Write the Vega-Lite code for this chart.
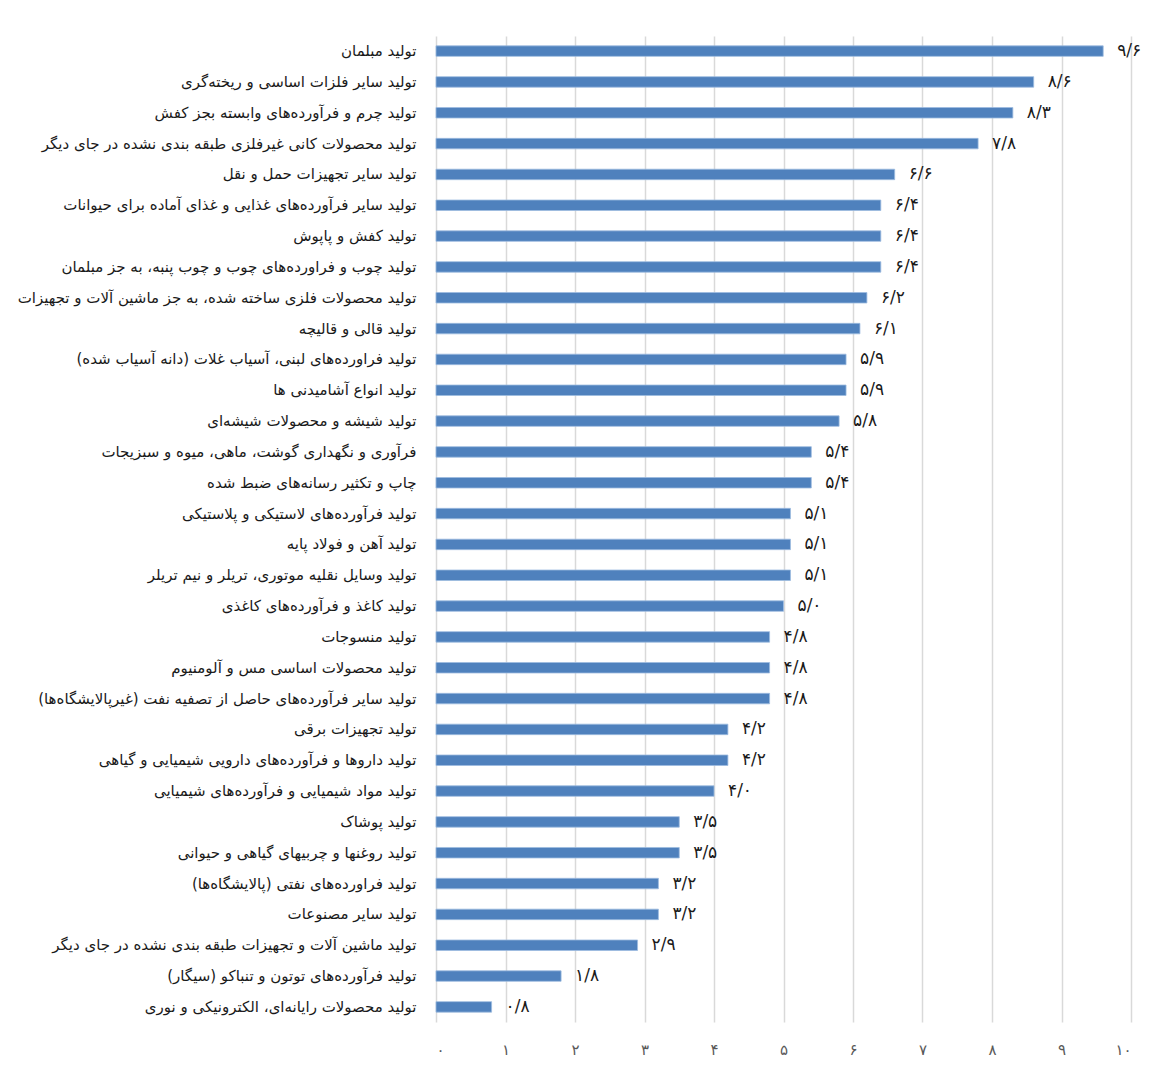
{
  "$schema": "https://vega.github.io/schema/vega-lite/v6.json",
  "width": 695,
  "height": 986,
  "autosize": {"type": "none"},
  "padding": {"left": 436, "top": 36, "right": 27, "bottom": 49},
  "background": "white",
  "config": {
    "view": {"stroke": null},
    "font": "DejaVu Sans"
  },
  "data": {
    "values": [
      {"industry": "تولید مبلمان", "value": 9.6, "label": "۹/۶"},
      {"industry": "تولید سایر فلزات اساسی و ریخته‌گری", "value": 8.6, "label": "۸/۶"},
      {"industry": "تولید چرم و فرآورده‌های وابسته بجز کفش", "value": 8.3, "label": "۸/۳"},
      {"industry": "تولید محصولات کانی غیرفلزی طبقه بندی نشده در جای دیگر", "value": 7.8, "label": "۷/۸"},
      {"industry": "تولید سایر تجهیزات حمل و نقل", "value": 6.6, "label": "۶/۶"},
      {"industry": "تولید سایر فرآورده‌های غذایی و غذای آماده برای حیوانات", "value": 6.4, "label": "۶/۴"},
      {"industry": "تولید کفش و پاپوش", "value": 6.4, "label": "۶/۴"},
      {"industry": "تولید چوب و فراورده‌های چوب و چوب پنبه، به جز مبلمان", "value": 6.4, "label": "۶/۴"},
      {"industry": "تولید محصولات فلزی ساخته شده، به جز ماشین آلات و تجهیزات", "value": 6.2, "label": "۶/۲"},
      {"industry": "تولید قالی و قالیچه", "value": 6.1, "label": "۶/۱"},
      {"industry": "تولید فراورده‌های لبنی، آسیاب غلات (دانه آسیاب شده)", "value": 5.9, "label": "۵/۹"},
      {"industry": "تولید انواع آشامیدنی ها", "value": 5.9, "label": "۵/۹"},
      {"industry": "تولید شیشه و محصولات شیشه‌ای", "value": 5.8, "label": "۵/۸"},
      {"industry": "فرآوری و نگهداری گوشت، ماهی، میوه و سبزیجات", "value": 5.4, "label": "۵/۴"},
      {"industry": "چاپ و تکثیر رسانه‌های ضبط شده", "value": 5.4, "label": "۵/۴"},
      {"industry": "تولید فرآورده‌های لاستیکی و پلاستیکی", "value": 5.1, "label": "۵/۱"},
      {"industry": "تولید آهن و فولاد پایه", "value": 5.1, "label": "۵/۱"},
      {"industry": "تولید وسایل نقلیه موتوری، تریلر و نیم تریلر", "value": 5.1, "label": "۵/۱"},
      {"industry": "تولید کاغذ و فرآورده‌های کاغذی", "value": 5.0, "label": "۵/۰"},
      {"industry": "تولید منسوجات", "value": 4.8, "label": "۴/۸"},
      {"industry": "تولید محصولات اساسی مس و آلومنیوم", "value": 4.8, "label": "۴/۸"},
      {"industry": "تولید سایر فرآورده‌های حاصل از تصفیه نفت (غیرپالایشگاه‌ها)", "value": 4.8, "label": "۴/۸"},
      {"industry": "تولید تجهیزات برقی", "value": 4.2, "label": "۴/۲"},
      {"industry": "تولید داروها و فرآورده‌های دارویی شیمیایی و گیاهی", "value": 4.2, "label": "۴/۲"},
      {"industry": "تولید مواد شیمیایی و فرآورده‌های شیمیایی", "value": 4.0, "label": "۴/۰"},
      {"industry": "تولید پوشاک", "value": 3.5, "label": "۳/۵"},
      {"industry": "تولید روغنها و چربیهای گیاهی و حیوانی", "value": 3.5, "label": "۳/۵"},
      {"industry": "تولید فراورده‌های نفتی (پالایشگاه‌ها)", "value": 3.2, "label": "۳/۲"},
      {"industry": "تولید سایر مصنوعات", "value": 3.2, "label": "۳/۲"},
      {"industry": "تولید ماشین آلات و تجهیزات طبقه بندی نشده در جای دیگر", "value": 2.9, "label": "۲/۹"},
      {"industry": "تولید فرآورده‌های توتون و تنباکو (سیگار)", "value": 1.8, "label": "۱/۸"},
      {"industry": "تولید محصولات رایانه‌ای، الکترونیکی و نوری", "value": 0.8, "label": "۰/۸"}
    ]
  },
  "encoding": {
    "y": {
      "field": "industry",
      "type": "nominal",
      "sort": null,
      "scale": {"paddingInner": 0.66, "paddingOuter": 0.32},
      "axis": {
        "title": null,
        "domain": false,
        "ticks": false,
        "grid": false,
        "labelPadding": 20,
        "labelFontSize": 15,
        "labelColor": "#1a1a1a",
        "labelLimit": 430
      }
    },
    "x": {
      "field": "value",
      "type": "quantitative",
      "scale": {"domain": [0, 10], "nice": false},
      "axis": {
        "title": null,
        "domain": false,
        "ticks": false,
        "values": [0, 1, 2, 3, 4, 5, 6, 7, 8, 9, 10],
        "labelExpr": "datum.value == 10 ? '۱۰' : substring('۰۱۲۳۴۵۶۷۸۹', datum.value, datum.value + 1)",
        "labelPadding": 20,
        "labelFontSize": 15,
        "labelColor": "#595959",
        "gridColor": "#d9d9d9",
        "gridWidth": 1.5
      }
    }
  },
  "layer": [
    {
      "mark": {"type": "bar", "color": "#4f81bd", "stroke": "#9dbbe0", "strokeWidth": 0.8}
    },
    {
      "mark": {"type": "text", "align": "left", "baseline": "middle", "dx": 14, "fontSize": 17, "color": "#1a1a1a"},
      "encoding": {"text": {"field": "label"}}
    }
  ]
}
